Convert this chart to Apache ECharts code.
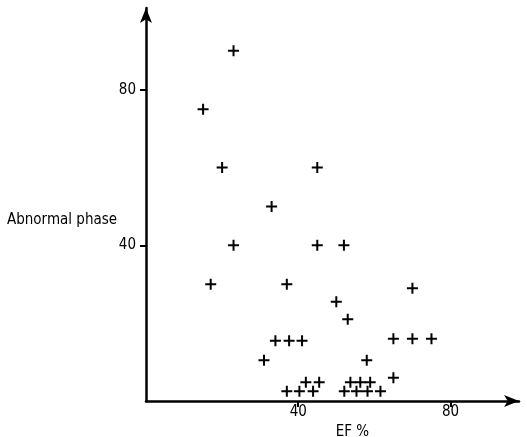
<!DOCTYPE html>
<html>
<head>
<meta charset="utf-8">
<script src="https://cdn.jsdelivr.net/npm/echarts@6/dist/echarts.min.js"></script>
<style>
  html, body { margin: 0; padding: 0; background: #fff; }
  #chart { width: 527px; height: 437px; }
</style>
</head>
<body>
<div id="chart"></div>
<script>
// EF % (x) and abnormal phase (y)
const efValues = [23, 15, 20, 45, 33, 23, 45, 52, 17, 37, 70, 50, 53,
  34, 37.6, 41, 65, 70, 75, 31, 58, 65,
  42, 45.5, 53.7, 56.3, 58.9,
  37, 40.3, 43.9, 52.1, 55.3, 58.2, 61.6]
const phaseValues = [90, 75, 60, 60, 50, 40, 40, 40, 30, 30, 29, 25.5, 21,
  15.5, 15.5, 15.5, 16, 16, 16, 10.5, 10.5, 6,
  4.8, 4.8, 4.8, 4.8, 4.8,
  2.5, 2.5, 2.5, 2.5, 2.5, 2.5, 2.5]
const tickValues = [40, 80]

const points = efValues.map((x, i) => [x, phaseValues[i]])

const chart = echarts.init(document.getElementById('chart'))

const font = 'DejaVu Sans Condensed'

const axisCommon = {
    type: 'value',
    min: 0,
    interval: 40,
    splitLine: { show: false },
    axisLine: {
        show: true,
        symbol: ['none', 'arrow'],
        symbolSize: [9, 15],
        lineStyle: { color: '#000', width: 2.5 }
    },
    axisTick: {
        show: true,
        length: 6,
        customValues: tickValues,
        lineStyle: { color: '#000', width: 2 }
    },
    axisLabel: {
        color: '#000',
        fontFamily: font,
        fontSize: 15,
        margin: 4,
        customValues: tickValues
    }
}

const option = {
    backgroundColor: '#fff',
    animation: false,
    grid: { left: 146, right: 8, top: 8, bottom: 36, outerBoundsMode: 'none', containLabel: false },
    xAxis: Object.assign({}, axisCommon, {
        max: 98,
        name: 'EF %',
        nameLocation: 'middle',
        nameGap: 23,
        nameTextStyle: { color: '#000', fontFamily: font, fontSize: 15, padding: [0, 0, 0, 40] }
    }),
    yAxis: Object.assign({}, axisCommon, {
        max: 101,
        axisLabel: Object.assign({}, axisCommon.axisLabel, { margin: 10 })
    }),
    graphic: [{
        type: 'text',
        left: 7,
        top: 213,
        style: { text: 'Abnormal phase', fill: '#000', font: '15px "DejaVu Sans Condensed"' }
    }],
    series: [{
        type: 'scatter',
        data: points,
        symbol: 'path://M4.5,0h2v4.5h4.5v2h-4.5v4.5h-2v-4.5h-4.5v-2h4.5z',
        symbolSize: 11,
        itemStyle: { color: '#000', opacity: 1 }
    }]
}

chart.setOption(option)
</script>
</body>
</html>
